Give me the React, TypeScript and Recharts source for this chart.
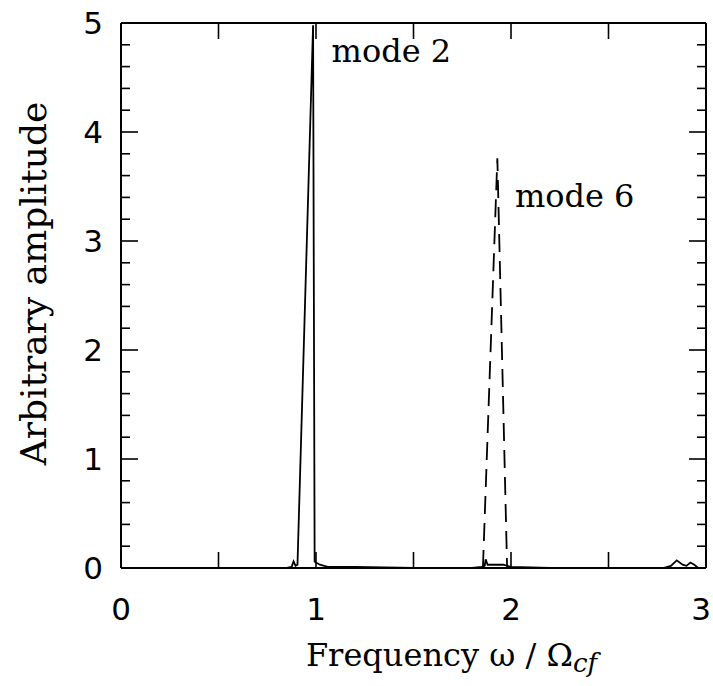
import React from 'react';
import { LineChart, Line, XAxis, YAxis, ReferenceDot } from 'recharts';

// Solid curve (mode 2 spectrum)
const mode2Freq = [0, 0.5, 0.85, 0.875, 0.885, 0.895, 0.905, 0.985, 0.993, 1.0, 1.02, 1.06, 1.2, 1.5, 1.8, 1.85, 1.865, 1.87, 1.88, 1.92, 1.96, 2.0, 2.2, 2.5, 2.78, 2.82, 2.85, 2.88, 2.9, 2.92, 2.94, 2.96, 3.0];
const mode2Amp = [0, 0, 0, 0.01, 0.06, 0.02, 0.03, 4.98, 0.06, 0.05, 0.03, 0.01, 0.01, 0, 0, 0.01, 0.02, 0.08, 0.03, 0.03, 0.03, 0.01, 0, 0, 0, 0.02, 0.07, 0.03, 0.02, 0.05, 0.03, 0, 0];

// Dashed curve (mode 6 spectrum)
const mode6Freq = [1.856, 1.93, 1.98];
const mode6Amp = [0, 3.76, 0];

const xTicks = [0, 0.5, 1, 1.5, 2, 2.5, 3];
const yTicks = [0, 0.2, 0.4, 0.6, 0.8, 1, 1.2, 1.4, 1.6, 1.8, 2, 2.2, 2.4, 2.6, 2.8, 3, 3.2, 3.4, 3.6, 3.8, 4, 4.2, 4.4, 4.6, 4.8, 5];

const mode2Data = mode2Freq.map((f, i) => ({ f, a: mode2Amp[i] }));
const mode6Data = mode6Freq.map((f, i) => ({ f, a: mode6Amp[i] }));

const SERIF = '"DejaVu Serif", "Liberation Serif", serif';
const SANS = '"DejaVu Sans", sans-serif';

const isMajor = (v: number) => Math.abs(v - Math.round(v)) < 1e-6;

const BottomTick = (props: any) => {
  const { x, y, payload } = props;
  const v = payload.value;
  const shift = v >= 3 ? -5 : 0;
  return (
    <g>
      <line x1={x} y1={y} x2={x} y2={y - 16} stroke="#000" strokeWidth={1.6} />
      {isMajor(v) && (
        <text x={x + shift} y={y + 52} textAnchor="middle" fontSize={31} fontFamily={SANS} fill="#000">
          {Math.round(v)}
        </text>
      )}
    </g>
  );
};

const TopTick = (props: any) => {
  const { x, y } = props;
  return <line x1={x} y1={y} x2={x} y2={y + 16} stroke="#000" strokeWidth={1.6} />;
};

const LeftTick = (props: any) => {
  const { x, y, payload } = props;
  const v = payload.value;
  const major = isMajor(v);
  return (
    <g>
      <line x1={x} y1={y} x2={x + (major ? 17 : 9)} y2={y} stroke="#000" strokeWidth={1.6} />
      {major && (
        <text x={x - 18} y={y + 11} textAnchor="end" fontSize={31} fontFamily={SANS} fill="#000">
          {Math.round(v)}
        </text>
      )}
    </g>
  );
};

const RightTick = (props: any) => {
  const { x, y, payload } = props;
  const major = isMajor(payload.value);
  return <line x1={x} y1={y} x2={x - (major ? 17 : 9)} y2={y} stroke="#000" strokeWidth={1.6} />;
};

const YLabel = (props: any) => {
  const vb = props.viewBox || { x: 0, y: 0, width: 0, height: 0 };
  const cx = 46;
  const cy = vb.y + vb.height / 2 - 12;
  return (
    <text
      x={cx}
      y={cy}
      transform={`rotate(-90, ${cx}, ${cy})`}
      textAnchor="middle"
      fontSize={36}
      fontFamily={SERIF}
      fill="#000"
    >
      Arbitrary amplitude
    </text>
  );
};

const XLabel = (props: any) => {
  const vb = props.viewBox || { x: 0, y: 0, width: 0, height: 0 };
  const cx = vb.x + vb.width / 2 + 38;
  const cy = 666;
  return (
    <text x={cx} y={cy} textAnchor="middle" fontSize={32} fontFamily={SERIF} fill="#000">
      Frequency ω / Ω
      <tspan fontStyle="italic" fontSize={26} dy={6}>cf</tspan>
    </text>
  );
};

export default function App() {
  return (
    <div style={{ position: 'absolute', left: 0, top: 0, width: 713, height: 686, background: '#fff' }}>
      <LineChart width={713} height={686} margin={{ top: 22, right: 6, bottom: 0, left: 0 }}>
        <XAxis
          xAxisId="bottom"
          type="number"
          dataKey="f"
          domain={[0, 3]}
          ticks={xTicks}
          orientation="bottom"
          height={118}
          axisLine={{ stroke: '#000', strokeWidth: 2 }}
          tickLine={false}
          tickSize={0}
          tickMargin={0}
          tick={<BottomTick />}
          interval={0}
          allowDataOverflow
          label={<XLabel />}
        />
        <XAxis
          xAxisId="top"
          type="number"
          dataKey="f"
          domain={[0, 3]}
          ticks={xTicks}
          orientation="top"
          height={1}
          axisLine={{ stroke: '#000', strokeWidth: 2 }}
          tickLine={false}
          tickSize={0}
          tickMargin={0}
          tick={<TopTick />}
          interval={0}
          allowDataOverflow
        />
        <YAxis
          yAxisId="left"
          type="number"
          domain={[0, 5]}
          ticks={yTicks}
          orientation="left"
          width={121}
          axisLine={{ stroke: '#000', strokeWidth: 2 }}
          tickLine={false}
          tickSize={0}
          tickMargin={0}
          tick={<LeftTick />}
          interval={0}
          allowDataOverflow
          label={<YLabel />}
        />
        <YAxis
          yAxisId="right"
          type="number"
          domain={[0, 5]}
          ticks={yTicks}
          orientation="right"
          width={1}
          axisLine={{ stroke: '#000', strokeWidth: 2 }}
          tickLine={false}
          tickSize={0}
          tickMargin={0}
          tick={<RightTick />}
          interval={0}
          allowDataOverflow
        />
        <Line
          xAxisId="bottom"
          yAxisId="left"
          data={mode2Data}
          dataKey="a"
          type="linear"
          stroke="#000"
          strokeWidth={1.8}
          dot={false}
          isAnimationActive={false}
        />
        <Line
          xAxisId="bottom"
          yAxisId="left"
          data={mode6Data}
          dataKey="a"
          type="linear"
          stroke="#000"
          strokeWidth={1.8}
          strokeDasharray="18 9"
          dot={false}
          isAnimationActive={false}
        />
        <ReferenceDot
          xAxisId="bottom"
          yAxisId="left"
          x={1.08}
          y={4.75}
          r={0}
          fill="none"
          stroke="none"
          label={{ value: 'mode 2', position: 'right', offset: 0, fontSize: 32, fontFamily: SERIF, fill: '#000' }}
        />
        <ReferenceDot
          xAxisId="bottom"
          yAxisId="left"
          x={2.02}
          y={3.42}
          r={0}
          fill="none"
          stroke="none"
          label={{ value: 'mode 6', position: 'right', offset: 0, fontSize: 32, fontFamily: SERIF, fill: '#000' }}
        />
      </LineChart>
    </div>
  );
}
